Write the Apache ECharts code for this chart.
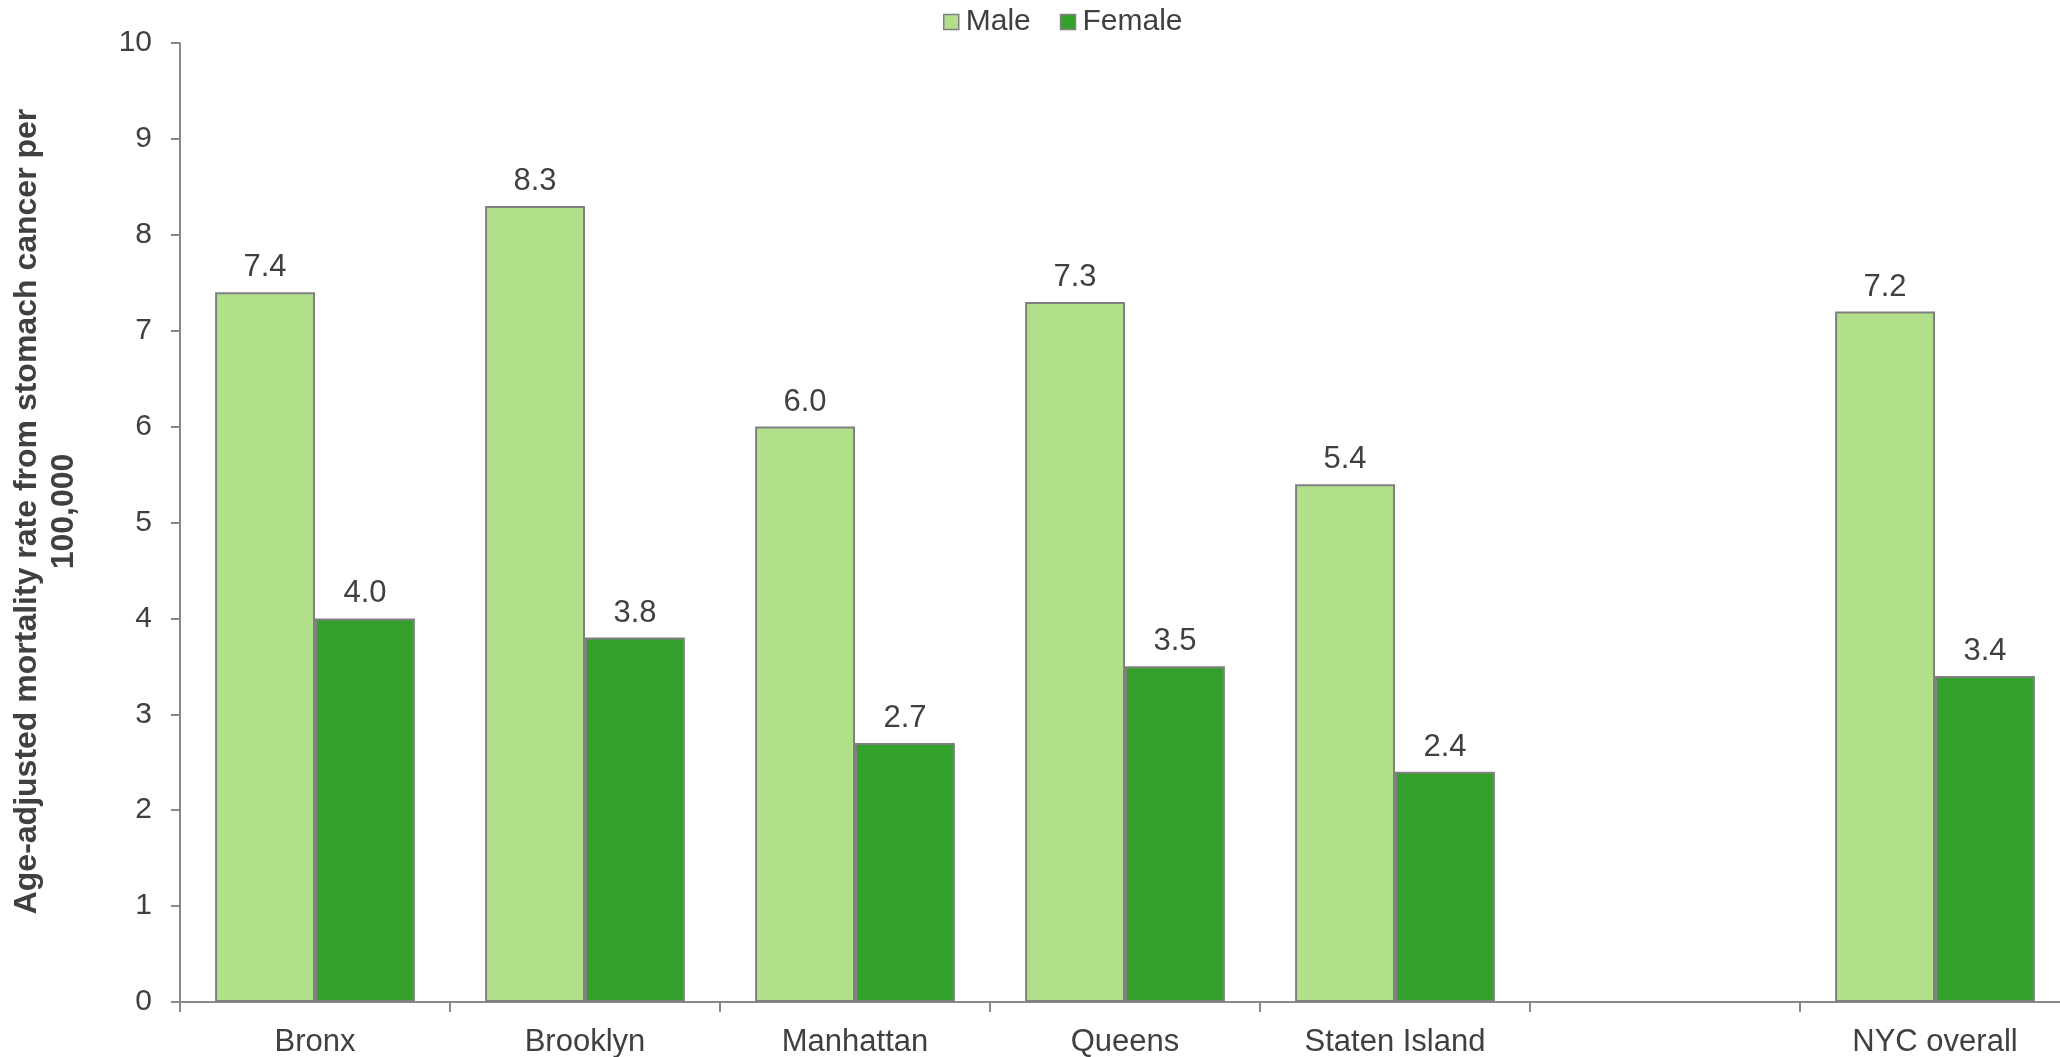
<!DOCTYPE html>
<html><head><meta charset="utf-8">
<script src="https://cdn.jsdelivr.net/npm/echarts@6/dist/echarts.min.js"></script>
<style>html,body{margin:0;padding:0;background:#fff}#c{width:2060px;height:1057px}</style>
</head><body><div id="c"></div>
<script>
const categories = ['Bronx', 'Brooklyn', 'Manhattan', 'Queens', 'Staten Island', '', 'NYC overall'];
const maleValues = [7.4, 8.3, 6.0, 7.3, 5.4, null, 7.2];
const femaleValues = [4.0, 3.8, 2.7, 3.5, 2.4, null, 3.4];
const yTicks = [0, 1, 2, 3, 4, 5, 6, 7, 8, 9, 10];

const font = 'Liberation Sans, Arial, sans-serif';
const txt = '#404040';
const chart = echarts.init(document.getElementById('c'));
const labelOpt = {show: true, position: 'top', distance: 9, color: txt, fontFamily: font, fontSize: 31,
  formatter: p => p.value == null ? '' : Number(p.value).toFixed(1)};
chart.setOption({
  animation: false,
  textStyle: {fontFamily: font},
  legend: {top: 2, left: 938, itemWidth: 15, itemHeight: 15, itemGap: 29,
    textStyle: {color: txt, fontSize: 30, fontFamily: font, padding: [0,0,0,2]},
    data: [{name: 'Male', icon: 'rect', itemStyle: {borderColor: '#808080', borderWidth: 1.5}},
           {name: 'Female', icon: 'rect', itemStyle: {borderColor: '#808080', borderWidth: 1.5}}]},
  grid: {left: 180, right: -10, top: 43, bottom: 55, containLabel: false, outerBoundsMode: 'none'},
  xAxis: {type: 'category', data: categories,
    axisLine: {lineStyle: {color: '#898989', width: 2}},
    axisTick: {show: true, alignWithLabel: false, length: 10, lineStyle: {color: '#898989', width: 2}},
    axisLabel: {color: txt, fontSize: 31, fontFamily: font, margin: 25, interval: 0}},
  yAxis: {type: 'value', min: 0, max: 10, interval: 1,
    name: 'Age-adjusted mortality rate from stomach cancer per\n100,000',
    nameLocation: 'middle', nameRotate: 90, nameGap: 97,
    nameTextStyle: {color: txt, fontSize: 32, fontWeight: 'bold', fontFamily: font, lineHeight: 37, align: 'center', padding: [0, 0, 0, 22]},
    axisLine: {show: true, lineStyle: {color: '#898989', width: 2}},
    axisTick: {show: true, length: 9, lineStyle: {color: '#898989', width: 2}},
    splitLine: {show: false},
    axisLabel: {color: txt, fontSize: 30, fontFamily: font, margin: 28,
      formatter: v => yTicks.includes(v) ? String(v) : ''}},
  series: [
    {name: 'Male', type: 'bar', data: maleValues, barGap: '0%', barCategoryGap: '26%',
      itemStyle: {color: '#B2DF8A', borderColor: '#808080', borderWidth: 2}, label: labelOpt},
    {name: 'Female', type: 'bar', data: femaleValues, barGap: '0%', barCategoryGap: '26%',
      itemStyle: {color: '#33A02C', borderColor: '#808080', borderWidth: 2}, label: labelOpt}
  ]
});
</script></body></html>
